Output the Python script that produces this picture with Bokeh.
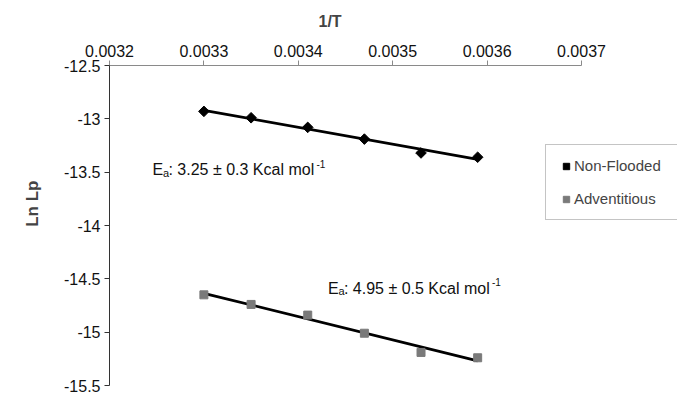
import numpy as np
from bokeh.plotting import figure
from bokeh.models import Range1d, FixedTicker, Label, Legend, LegendItem, Title
from bokeh.embed import file_html
from bokeh.resources import INLINE

# ---- data ----
inv_T = [0.0033, 0.00335, 0.00341, 0.00347, 0.00353, 0.00359]
ln_lp_nonflooded = [-12.93, -12.99, -13.08, -13.19, -13.32, -13.36]
ln_lp_adventitious = [-14.65, -14.74, -14.84, -15.01, -15.19, -15.24]

x_ticks = [0.0032, 0.0033, 0.0034, 0.0035, 0.0036, 0.0037]
x_tick_labels = ["0.0032", "0.0033", "0.0034", "0.0035", "0.0036", "0.0037"]
y_ticks = [-15.5, -15.0, -14.5, -14.0, -13.5, -13.0, -12.5]
y_tick_labels = ["-15.5", "-15", "-14.5", "-14", "-13.5", "-13", "-12.5"]
x_axis_bounds = (0.0032, 0.0037)
x_view = (0.0032, 0.0038017)   # frame continues past the axis end (legend area)
y_view = (-15.5, -12.5)

FONT = "Liberation Sans"

p = figure(frame_width=568, frame_height=320,
           x_range=Range1d(*x_view), y_range=Range1d(*y_view),
           x_axis_location="above", output_backend="svg", toolbar_location=None,
           min_border_left=109, min_border_top=65, min_border_right=0, min_border_bottom=24)
p.outline_line_color = None
p.xgrid.visible = False
p.ygrid.visible = False
p.background_fill_color = "white"
p.border_fill_color = "white"

p.xaxis.bounds = x_axis_bounds

for ax, ticks, labels, col in ((p.xaxis[0], x_ticks, x_tick_labels, "#8a8a8a"),
                               (p.yaxis[0], y_ticks, y_tick_labels, "#333333")):
    ax.ticker = FixedTicker(ticks=ticks)
    ax.major_label_overrides = {t: l for t, l in zip(ticks, labels)}
    ax.major_tick_out = 5
    ax.major_tick_in = 0
    ax.minor_tick_line_color = None
    ax.axis_line_color = col
    ax.major_tick_line_color = col
    ax.major_label_text_font = FONT
    ax.major_label_text_font_size = "16px"
    ax.major_label_text_color = "#111111"
    ax.major_label_standoff = 4

# axis titles
p.title.text = "1/T"
p.title.align = "left"
p.title.offset = 209
p.title.vertical_align = "top"
p.title.text_font = FONT
p.title.text_font_size = "16px"
p.title.text_font_style = "bold"
p.title.standoff = 20

p.add_layout(Title(text="Ln Lp", align="right", offset=115, text_font=FONT,
                   text_font_size="17px", text_font_style="bold", standoff=40), "left")

# trend lines (least-squares fits of the plotted points)
xs = np.array(inv_T)
for ys in (ln_lp_nonflooded, ln_lp_adventitious):
    m, b = np.polyfit(xs, np.array(ys), 1)
    xl = [xs[0], xs[-1]]
    p.line(xl, [m * xl[0] + b, m * xl[1] + b], line_color="black", line_width=2.75)

r1 = p.scatter(inv_T, ln_lp_nonflooded, marker="square", angle=np.pi / 4, size=7.5,
               fill_color="black", line_color="black")
r2 = p.scatter(inv_T, ln_lp_adventitious, marker="square", size=8,
               fill_color="#7a7a7a", line_color="#7a7a7a")

legend = Legend(items=[LegendItem(label="Non-Flooded", renderers=[r1]),
                       LegendItem(label="Adventitious", renderers=[r2])],
                location=(436, 165), orientation="vertical")
legend.border_line_color = "#8a8a8a"
legend.border_line_width = 1.5
legend.background_fill_color = "white"
legend.background_fill_alpha = 1.0
legend.label_text_font = FONT
legend.label_text_font_size = "15px"
legend.glyph_width = 16
legend.glyph_height = 16
legend.label_standoff = 0
legend.label_width = 130
legend.padding = 12
legend.spacing = 16
legend.margin = 0
p.add_layout(legend, "center")


def ea_label(x, y, value, sup_dx):
    common = dict(text_font=FONT, text_color="#111111", text_baseline="alphabetic")
    p.add_layout(Label(x=x, y=y, text="E", text_font_size="16px", **common))
    p.add_layout(Label(x=x, y=y, x_offset=10.5, y_offset=-3, text="a",
                       text_font_size="11px", **common))
    p.add_layout(Label(x=x, y=y, x_offset=16, text=": " + value + " Kcal mol",
                       text_font_size="16px", **common))
    p.add_layout(Label(x=x, y=y, x_offset=sup_dx, y_offset=6, text="-1",
                       text_font_size="10px", **common))


ea_label(0.0032455, -13.475, "3.25 \u00b1 0.3", 164)
ea_label(0.0034314, -14.59, "4.95 \u00b1 0.5", 164)

open("out.html", "w").write(file_html(p, INLINE))
